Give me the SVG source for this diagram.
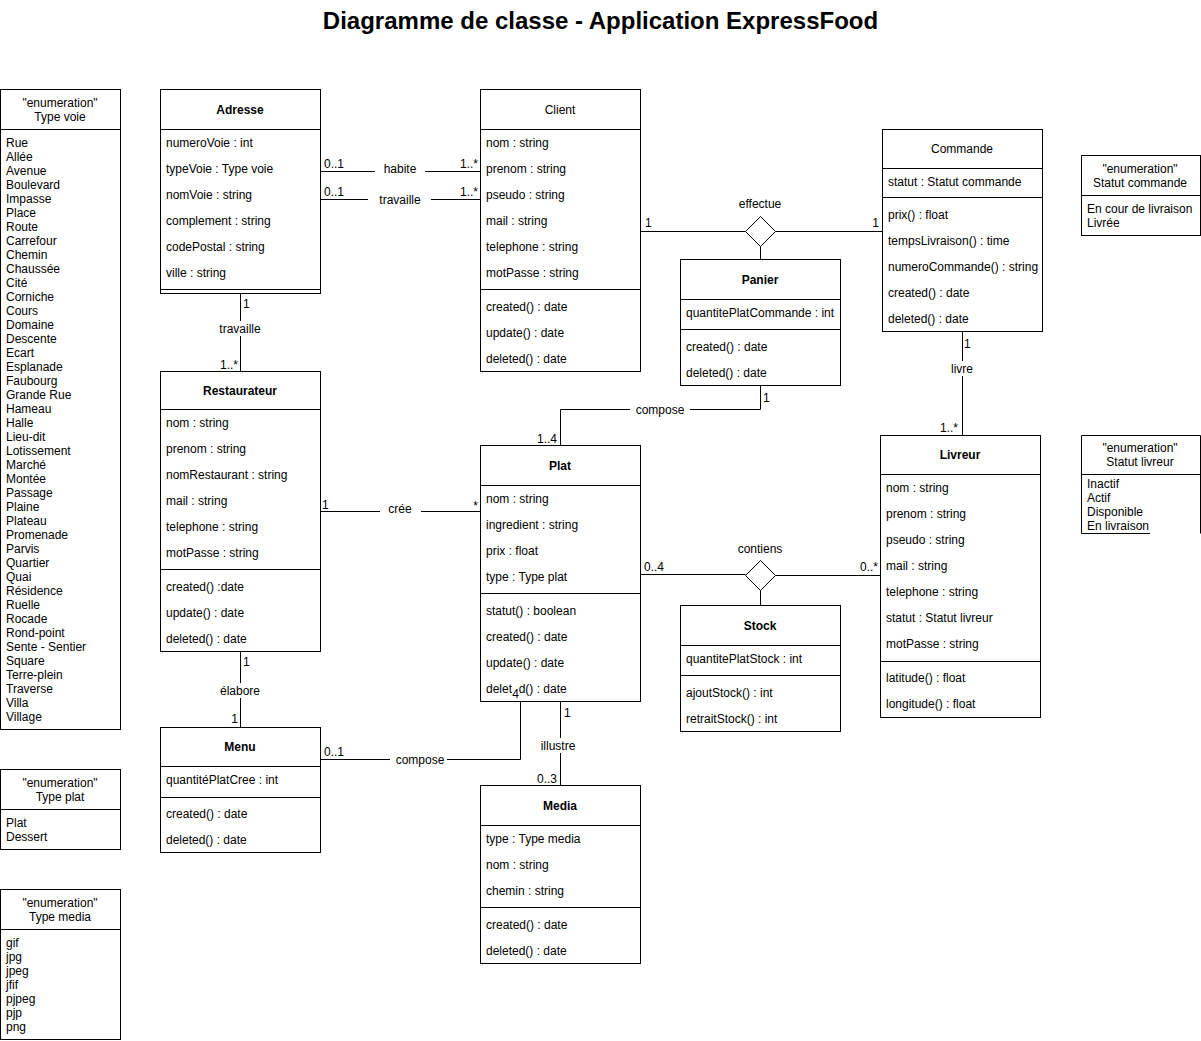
<svg xmlns="http://www.w3.org/2000/svg" width="1201" height="1041" viewBox="0 0 1201 1041">
<style>
.bx{fill:#fff;stroke:#000;stroke-width:1}
.ln{fill:none;stroke:#000;stroke-width:1}
text{font-family:"Liberation Sans",Arial,Helvetica,sans-serif;font-size:12px;fill:#000;transform:translateY(1px)}
.c{text-anchor:middle}
.r{text-anchor:end}
.b{font-weight:bold}
.ttl{font-size:24px;font-weight:bold}
.bg{fill:#fff;stroke:none}
</style>
<rect width="1201" height="1041" fill="#fff"/>
<text class="ttl c" x="600.5" y="28">Diagramme de classe - Application ExpressFood</text>

<g id="connectors">
  <path class="ln" d="M320.5,171.5 H480.5"/>
  <rect class="bg" x="375" y="160" width="50" height="16"/>
  <text class="c" x="400" y="172">habite</text>
  <text x="324" y="167">0..1</text>
  <text class="r" x="478" y="167">1..*</text>

  <path class="ln" d="M320.5,199.5 H480.5"/>
  <rect class="bg" x="368" y="191" width="63" height="16"/>
  <text class="c" x="400" y="203">travaille</text>
  <text x="324" y="195">0..1</text>
  <text class="r" x="478" y="195">1..*</text>

  <path class="ln" d="M640.5,231.5 H745.5 M775.5,231.5 H882.5 M760.5,246.5 V259.5"/>
  <path class="bx" d="M760.5,216.5 L775.5,231.5 L760.5,246.5 L745.5,231.5 Z"/>
  <text class="c" x="760" y="207">effectue</text>
  <text x="645" y="226">1</text>
  <text class="r" x="879" y="226">1</text>

  <path class="ln" d="M962.5,331.5 V435.5"/>
  <rect class="bg" x="948" y="361" width="29" height="15"/>
  <text class="c" x="962" y="372">livre</text>
  <text x="964" y="347">1</text>
  <text class="r" x="958" y="431">1..*</text>

  <path class="ln" d="M240.5,293.5 V371.5"/>
  <rect class="bg" x="215" y="321" width="51" height="15"/>
  <text class="c" x="240" y="332">travaille</text>
  <text x="243" y="307">1</text>
  <text class="r" x="238" y="368">1..*</text>

  <path class="ln" d="M320.5,511.5 H480.5"/>
  <rect class="bg" x="380" y="502" width="41" height="16"/>
  <text class="c" x="400" y="512">crée</text>
  <text x="322" y="508">1</text>
  <text class="r" x="478" y="509">*</text>

  <path class="ln" d="M760.5,385.5 V409.5 H560.5 V445.5"/>
  <rect class="bg" x="630" y="401" width="60" height="16"/>
  <text class="c" x="660" y="413">compose</text>
  <text x="763" y="401">1</text>
  <text class="r" x="557" y="442">1..4</text>

  <path class="ln" d="M640.5,574.5 H745.5 M775.5,575.5 H880.5 M760.5,590.5 V605.5"/>
  <path class="bx" d="M760.5,560.5 L775.5,575.5 L760.5,590.5 L745.5,575.5 Z"/>
  <text class="c" x="760" y="552">contiens</text>
  <text x="644" y="570">0..4</text>
  <text class="r" x="878" y="570">0..*</text>

  <path class="ln" d="M240.5,651.5 V727.5"/>
  <rect class="bg" x="217" y="683" width="47" height="15"/>
  <text class="c" x="240" y="694">élabore</text>
  <text x="243" y="665">1</text>
  <text class="r" x="238" y="722">1</text>

  <path class="ln" d="M320.5,759.5 H520.5 V701.5"/>
  <rect class="bg" x="390" y="751" width="57" height="16"/>
  <text class="c" x="420" y="763">compose</text>
  <text x="324" y="755">0..1</text>

  <path class="ln" d="M560.5,701.5 V785.5"/>
  <rect class="bg" x="538" y="738" width="40" height="15"/>
  <text class="c" x="558" y="749">illustre</text>
  <text x="564" y="716">1</text>
  <text class="r" x="557" y="782">0..3</text>
</g>

<g id="enum-type-voie">
  <rect class="bx" x="0.5" y="89.5" width="120" height="640"/>
  <path class="ln" d="M0.5,129.5 H120.5"/>
  <text class="c" x="60" y="106">"enumeration"</text>
  <text class="c" x="60" y="120">Type voie</text>
  <text x="6" y="146">Rue</text>
  <text x="6" y="160">Allée</text>
  <text x="6" y="174">Avenue</text>
  <text x="6" y="188">Boulevard</text>
  <text x="6" y="202">Impasse</text>
  <text x="6" y="216">Place</text>
  <text x="6" y="230">Route</text>
  <text x="6" y="244">Carrefour</text>
  <text x="6" y="258">Chemin</text>
  <text x="6" y="272">Chaussée</text>
  <text x="6" y="286">Cité</text>
  <text x="6" y="300">Corniche</text>
  <text x="6" y="314">Cours</text>
  <text x="6" y="328">Domaine</text>
  <text x="6" y="342">Descente</text>
  <text x="6" y="356">Ecart</text>
  <text x="6" y="370">Esplanade</text>
  <text x="6" y="384">Faubourg</text>
  <text x="6" y="398">Grande Rue</text>
  <text x="6" y="412">Hameau</text>
  <text x="6" y="426">Halle</text>
  <text x="6" y="440">Lieu-dit</text>
  <text x="6" y="454">Lotissement</text>
  <text x="6" y="468">Marché</text>
  <text x="6" y="482">Montée</text>
  <text x="6" y="496">Passage</text>
  <text x="6" y="510">Plaine</text>
  <text x="6" y="524">Plateau</text>
  <text x="6" y="538">Promenade</text>
  <text x="6" y="552">Parvis</text>
  <text x="6" y="566">Quartier</text>
  <text x="6" y="580">Quai</text>
  <text x="6" y="594">Résidence</text>
  <text x="6" y="608">Ruelle</text>
  <text x="6" y="622">Rocade</text>
  <text x="6" y="636">Rond-point</text>
  <text x="6" y="650">Sente - Sentier</text>
  <text x="6" y="664">Square</text>
  <text x="6" y="678">Terre-plein</text>
  <text x="6" y="692">Traverse</text>
  <text x="6" y="706">Villa</text>
  <text x="6" y="720">Village</text>
</g>

<g id="enum-type-plat">
  <rect class="bx" x="0.5" y="769.5" width="120" height="80"/>
  <path class="ln" d="M0.5,809.5 H120.5"/>
  <text class="c" x="60" y="786">"enumeration"</text>
  <text class="c" x="60" y="800">Type plat</text>
  <text x="6" y="826">Plat</text>
  <text x="6" y="840">Dessert</text>
</g>

<g id="enum-type-media">
  <rect class="bx" x="0.5" y="889.5" width="120" height="150"/>
  <path class="ln" d="M0.5,929.5 H120.5"/>
  <text class="c" x="60" y="906">"enumeration"</text>
  <text class="c" x="60" y="920">Type media</text>
  <text x="6" y="946">gif</text>
  <text x="6" y="960">jpg</text>
  <text x="6" y="974">jpeg</text>
  <text x="6" y="988">jfif</text>
  <text x="6" y="1002">pjpeg</text>
  <text x="6" y="1016">pjp</text>
  <text x="6" y="1030">png</text>
</g>

<g id="enum-statut-commande">
  <rect class="bx" x="1081.5" y="155.5" width="119" height="80"/>
  <path class="ln" d="M1081.5,195.5 H1200.5"/>
  <text class="c" x="1140" y="172">"enumeration"</text>
  <text class="c" x="1140" y="186">Statut commande</text>
  <text x="1087" y="212">En cour de livraison</text>
  <text x="1087" y="226">Livrée</text>
</g>

<g id="enum-statut-livreur">
  <path class="bx" d="M1081.5,533.5 V435.5 H1200.5 V533.5"/>
  <path class="ln" d="M1081.5,474.5 H1200.5 M1081.5,533.5 H1150"/>
  <text class="c" x="1140" y="451">"enumeration"</text>
  <text class="c" x="1140" y="465">Statut livreur</text>
  <text x="1087" y="487">Inactif</text>
  <text x="1087" y="501">Actif</text>
  <text x="1087" y="515">Disponible</text>
  <text x="1087" y="529">En livraison</text>
</g>

<g id="class-adresse">
  <rect class="bx" x="160.5" y="89.5" width="160" height="204"/>
  <path class="ln" d="M160.5,129.5 H320.5 M160.5,289.5 H320.5"/>
  <text class="c b" x="240" y="113">Adresse</text>
  <text x="166" y="146">numeroVoie : int</text>
  <text x="166" y="172">typeVoie : Type voie</text>
  <text x="166" y="198">nomVoie : string</text>
  <text x="166" y="224">complement : string</text>
  <text x="166" y="250">codePostal : string</text>
  <text x="166" y="276">ville : string</text>
</g>

<g id="class-client">
  <rect class="bx" x="480.5" y="89.5" width="160" height="282"/>
  <path class="ln" d="M480.5,129.5 H640.5 M480.5,289.5 H640.5"/>
  <text class="c" x="560" y="113">Client</text>
  <text x="486" y="146">nom : string</text>
  <text x="486" y="172">prenom : string</text>
  <text x="486" y="198">pseudo : string</text>
  <text x="486" y="224">mail : string</text>
  <text x="486" y="250">telephone : string</text>
  <text x="486" y="276">motPasse : string</text>
  <text x="486" y="310">created() : date</text>
  <text x="486" y="336">update() : date</text>
  <text x="486" y="362">deleted() : date</text>
</g>

<g id="class-commande">
  <rect class="bx" x="882.5" y="129.5" width="160" height="202"/>
  <path class="ln" d="M882.5,168.5 H1042.5 M882.5,197.5 H1042.5"/>
  <text class="c" x="962" y="152">Commande</text>
  <text x="888" y="185">statut : Statut commande</text>
  <text x="888" y="218">prix() : float</text>
  <text x="888" y="244">tempsLivraison() : time</text>
  <text x="888" y="270">numeroCommande() : string</text>
  <text x="888" y="296">created() : date</text>
  <text x="888" y="322">deleted() : date</text>
</g>

<g id="class-panier">
  <rect class="bx" x="680.5" y="259.5" width="160" height="126"/>
  <path class="ln" d="M680.5,299.5 H840.5 M680.5,329.5 H840.5"/>
  <text class="c b" x="760" y="283">Panier</text>
  <text x="686" y="316">quantitePlatCommande : int</text>
  <text x="686" y="350">created() : date</text>
  <text x="686" y="376">deleted() : date</text>
</g>

<g id="class-restaurateur">
  <rect class="bx" x="160.5" y="371.5" width="160" height="280"/>
  <path class="ln" d="M160.5,409.5 H320.5 M160.5,569.5 H320.5"/>
  <text class="c b" x="240" y="394">Restaurateur</text>
  <text x="166" y="426">nom : string</text>
  <text x="166" y="452">prenom : string</text>
  <text x="166" y="478">nomRestaurant : string</text>
  <text x="166" y="504">mail : string</text>
  <text x="166" y="530">telephone : string</text>
  <text x="166" y="556">motPasse : string</text>
  <text x="166" y="590">created() :date</text>
  <text x="166" y="616">update() : date</text>
  <text x="166" y="642">deleted() : date</text>
</g>

<g id="class-plat">
  <rect class="bx" x="480.5" y="445.5" width="160" height="256"/>
  <path class="ln" d="M480.5,485.5 H640.5 M480.5,593.5 H640.5"/>
  <text class="c b" x="560" y="469">Plat</text>
  <text x="486" y="502">nom : string</text>
  <text x="486" y="528">ingredient : string</text>
  <text x="486" y="554">prix : float</text>
  <text x="486" y="580">type : Type plat</text>
  <text x="486" y="614">statut() : boolean</text>
  <text x="486" y="640">created() : date</text>
  <text x="486" y="666">update() : date</text>
  <text x="486" y="692">deleted() : date</text>
  <rect class="bg" x="512" y="684" width="7" height="17"/>
  <text class="c" x="515.5" y="697">4</text>
</g>

<g id="class-livreur">
  <rect class="bx" x="880.5" y="435.5" width="160" height="282"/>
  <path class="ln" d="M880.5,474.5 H1040.5 M880.5,661.5 H1040.5"/>
  <text class="c b" x="960" y="458">Livreur</text>
  <text x="886" y="491">nom : string</text>
  <text x="886" y="517">prenom : string</text>
  <text x="886" y="543">pseudo : string</text>
  <text x="886" y="569">mail : string</text>
  <text x="886" y="595">telephone : string</text>
  <text x="886" y="621">statut : Statut livreur</text>
  <text x="886" y="647">motPasse : string</text>
  <text x="886" y="681">latitude() : float</text>
  <text x="886" y="707">longitude() : float</text>
</g>

<g id="class-stock">
  <rect class="bx" x="680.5" y="605.5" width="160" height="126"/>
  <path class="ln" d="M680.5,645.5 H840.5 M680.5,675.5 H840.5"/>
  <text class="c b" x="760" y="629">Stock</text>
  <text x="686" y="662">quantitePlatStock : int</text>
  <text x="686" y="696">ajoutStock() : int</text>
  <text x="686" y="722">retraitStock() : int</text>
</g>

<g id="class-menu">
  <rect class="bx" x="160.5" y="727.5" width="160" height="125"/>
  <path class="ln" d="M160.5,766.5 H320.5 M160.5,797.5 H320.5"/>
  <text class="c b" x="240" y="750">Menu</text>
  <text x="166" y="783">quantitéPlatCree : int</text>
  <text x="166" y="817">created() : date</text>
  <text x="166" y="843">deleted() : date</text>
</g>

<g id="class-media">
  <rect class="bx" x="480.5" y="785.5" width="160" height="178"/>
  <path class="ln" d="M480.5,825.5 H640.5 M480.5,907.5 H640.5"/>
  <text class="c b" x="560" y="809">Media</text>
  <text x="486" y="842">type : Type media</text>
  <text x="486" y="868">nom : string</text>
  <text x="486" y="894">chemin : string</text>
  <text x="486" y="928">created() : date</text>
  <text x="486" y="954">deleted() : date</text>
</g>
</svg>
